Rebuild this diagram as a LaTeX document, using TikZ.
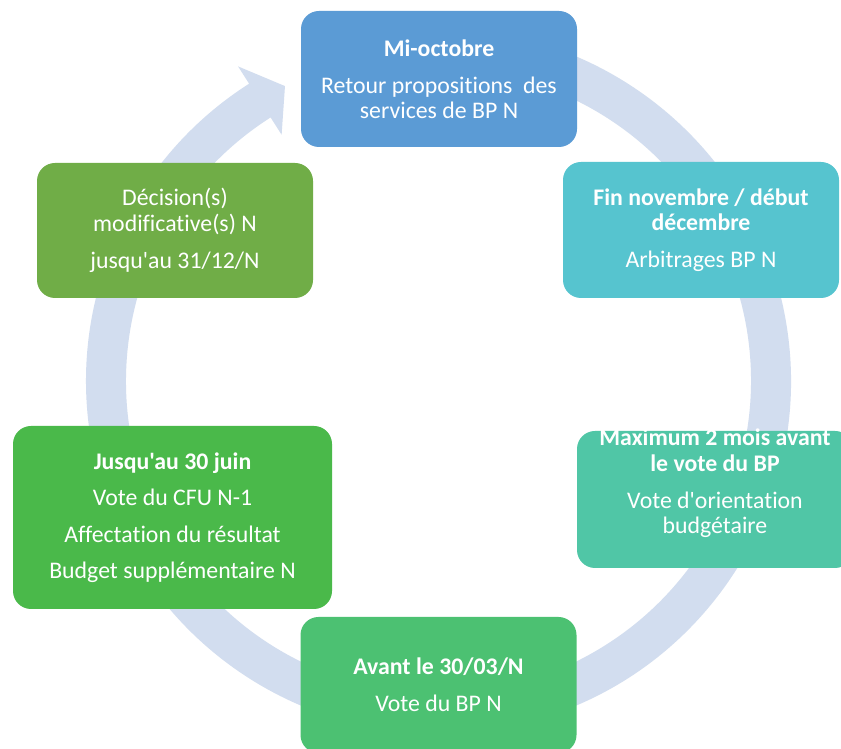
\documentclass[tikz,border=0pt]{standalone}
\usepackage{fontspec}
\setmainfont{Carlito}[Ligatures={TeXOff,CommonOff}]
\usetikzlibrary{calc}
\definecolor{ringc}{HTML}{D2DDEF}
\definecolor{cA}{HTML}{5B9BD5}
\definecolor{cB}{HTML}{56C4CF}
\definecolor{cC}{HTML}{50C6A6}
\definecolor{cD}{HTML}{4CC172}
\definecolor{cE}{HTML}{4AB94A}
\definecolor{cF}{HTML}{70AD47}
\tikzset{
  box/.style={rounded corners=18pt, inner sep=0pt, text=white, align=center,
    minimum width=276pt, minimum height=136pt,
    font=\fontsize{23.8}{25.5}\selectfont},
  txt/.style={text=white, align=center, inner sep=0pt, font=\fontsize{23.8}{25.5}\selectfont}
}
\begin{document}
\begin{tikzpicture}[x=1pt,y=1pt]
\fill[white] (0,0) rectangle (841,749);
\useasboundingbox (0,0) rectangle (841,749);
\coordinate (C) at (438.5,368);
\fill[ringc] ($(C)+(100:352.5)$) arc[start angle=100, end angle=-237.5, radius=352.5pt]
  -- ($(C)+(122.5:373)$) -- ($(C)+(117.5:332.5)$) -- ($(C)+(122.5:292)$)
  -- ($(C)+(122.5:312.5)$) arc[start angle=-237.5, end angle=100, radius=312.5pt] -- cycle;
\begin{scope}
\clip (0,0) rectangle (841,749);
\node[box, fill=cA] (top) at (439,670) {\textbf{Mi-octobre}\\[11.5pt]Retour propositions~ des\\services de BP N};
\node[box, fill=cB] (tr) at (701,519) {\textbf{Fin novembre / début}\\\textbf{décembre}\\[11.5pt]Arbitrages BP N};
\node[box, fill=cC, minimum height=137pt] (rt) at (715,249.5) {};
\node[txt] (rtt) at (715,265.5) {\textbf{Maximum 2 mois avant}\\\textbf{le vote du BP}\\[11.5pt]Vote d'orientation\\budgétaire};
\node[box, fill=cD] (bot) at (438.5,64) {\textbf{Avant le 30/03/N}\\[11.5pt]Vote du BP N};
\node[box, fill=cE, minimum width=319pt, minimum height=183pt] (bl) at (172.5,231.5) {\textbf{Jusqu'au 30 juin}\\[11pt]Vote du CFU N-1\\[11pt]Affectation du résultat\\[11pt]Budget supplémentaire N};
\node[box, fill=cF, minimum height=135pt] (tl) at (175,518.5) {Décision(s)\\modificative(s) N\\[11.5pt]jusqu'au 31/12/N};
\end{scope}
\end{tikzpicture}
\end{document}
